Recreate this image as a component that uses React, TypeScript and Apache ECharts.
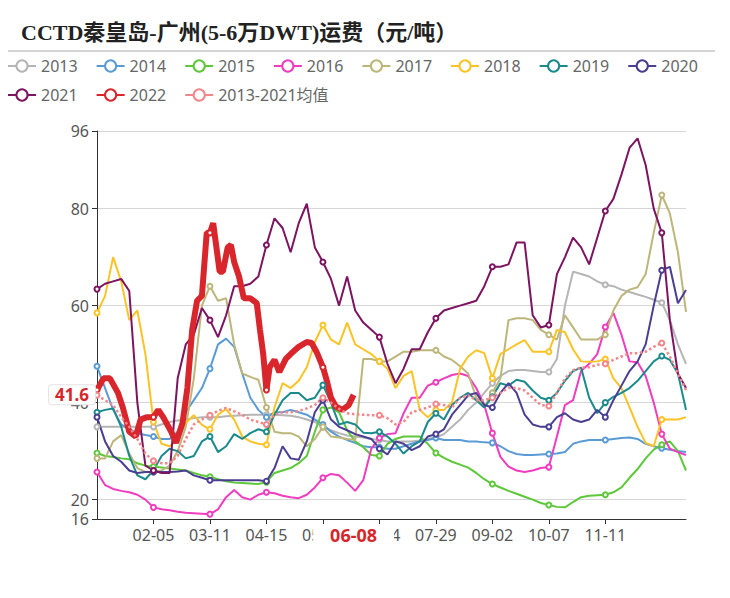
import React, { useEffect, useRef } from 'react';
import * as echarts from 'echarts';

// Category axis: every day of a (leap) year, MM-DD
const monthDays = [31, 29, 31, 30, 31, 30, 31, 31, 30, 31, 30, 31];
const days: string[] = [];
monthDays.forEach((n, m) => {
  for (let d = 1; d <= n; d++) days.push(`${String(m + 1).padStart(2, '0')}-${String(d).padStart(2, '0')}`);
});
// readings were taken every 5 days (01-01, 01-06, ... 12-31)
const sampleDays = days.filter((_, i) => i % 5 === 0);

const v2013 = [
  35, 35, 35, 35, 35, 35, 35, 35, 35.5, 36,
  36.3, 36.5, 36.8, 37, 37, 37, 37.2, 37.3, 37.4, 37.5,
  37.5, 37.5, 37.5, 37.4, 37.3, 37, 36.5, 36, 35, 34.3,
  33.7, 33.2, 33, 32.8, 32.5, 32.3, 32, 32, 32, 32,
  32.2, 32.5, 32.8, 33.5, 35, 36.5, 38.5, 40, 42, 44,
  45.5, 46.5, 46.7, 46.7, 46.5, 46.3, 46.3, 49, 60, 67,
  66.5, 66, 65, 64.3, 64, 63.3, 62.8, 62.3, 61.8, 61.2,
  60.6, 57, 52, 48,
];
const v2014 = [
  47.5, 43, 38.5, 35.5, 34.5, 33.7, 33.3, 33, 32.5, 32.5,
  34, 38, 40.5, 43, 47, 52, 53.2, 51.5, 46, 41,
  38.5, 37, 38, 38, 38.5, 38, 37.5, 36.5, 35.5, 34,
  33, 32.3, 31.7, 31, 30.8, 30.8, 30.5, 30.5, 31, 31.5,
  32, 32.3, 32.7, 32.3, 32.3, 32.3, 32, 32, 31.8, 31.7,
  31, 30, 29.4, 29.2, 29.2, 29.3, 29.4, 29.5, 29.8, 31.5,
  32, 32.3, 32.3, 32.3, 32.5, 32.7, 32.8, 32.5, 31.5, 31,
  30.6, 30.3, 30, 29.8,
];
const v2015 = [
  29.6, 29, 28.8, 28.5, 28.3, 27.5, 27, 26.8, 26.6, 26.4,
  26.2, 26, 25.5, 25, 24.7, 24.2, 23.8, 23.5, 23.4, 23.3,
  23.2, 23.6, 25.5, 26, 26.5, 27.5, 29, 34, 38.5, 39,
  38, 34.3, 32, 30.8, 29.2, 29, 31.5, 32.5, 33, 33,
  33, 31.5, 29.6, 28.6, 27.8, 27.2, 26.6, 25.5, 24.2, 23.2,
  22.5, 21.8, 21.2, 20.6, 20, 19.3, 18.9, 18.5, 18.4, 19.5,
  20.5, 20.8, 20.9, 21, 21.5, 22.5, 24.5, 26.3, 28.5, 30.3,
  31.3, 32, 30, 26,
];
const v2016 = [
  25.7, 23, 22.2, 21.8, 21.5, 21, 20, 18.4, 18, 17.8,
  17.5, 17.3, 17.2, 17.1, 17, 18, 20.5, 22, 20.5, 20,
  21, 21.5, 21.3, 20.8, 20.5, 20.3, 21, 22.5, 24.5, 25.3,
  25, 23.5, 21.8, 24, 30.5, 32.7, 33.5, 33.7, 37.8, 41,
  41, 43.5, 44.2, 45, 45.7, 46, 45.5, 43, 39.5, 33.7,
  28.8, 26.8, 26, 25.7, 26, 26.5, 26.7, 33, 39.5, 40.5,
  46.5, 48, 50, 55.6, 58.5, 54, 48.5, 48.3, 45.5, 40,
  33.5, 30.5, 29.8, 29.2,
];
const v2017 = [
  28.5, 28.5, 32, 33.3, 29.5, 26.5, 25.7, 25.7, 26, 27,
  30, 35, 45, 60, 64, 61, 61.5, 52, 46, 45.3,
  44.7, 39, 34, 33.7, 33.7, 33, 31, 32.5, 35, 33,
  32.8, 32.5, 32.3, 49, 49, 48.5, 48.5, 49.5, 50.5, 50.5,
  50.8, 50.8, 50.8, 49.5, 48.8, 47.5, 46, 41, 39, 42,
  45, 57, 57.4, 57.4, 57, 55, 54, 53, 58, 55.5,
  53, 53, 53, 54, 59, 62, 63.3, 63.8, 66.5, 75,
  82.8, 79, 71, 58.7,
];
const v2018 = [
  58.5, 62, 70, 65, 57, 59, 50, 36, 31.5, 31,
  32.5, 35.8, 37.4, 35.4, 34.5, 37.5, 38.7, 36.5, 33, 32,
  31.5, 31.3, 39, 44, 43, 44.5, 47.3, 52.5, 56, 53,
  52, 56.5, 52, 51, 50, 48.5, 47, 43, 45.5, 46.5,
  38.5, 37, 38.5, 38.5, 40, 47, 49.5, 50.8, 50.2, 45,
  50, 51, 52, 52.9, 50.5, 50.5, 50.5, 55, 54.5, 51,
  48.5, 48.4, 48.5, 49, 45, 43, 39, 35, 31.7, 31,
  36.5, 36.5, 36.5, 37,
];
const v2019 = [
  38, 38.5, 38.8, 35, 29, 25, 24.2, 26, 29, 30.5,
  30, 28.5, 29, 32, 33, 29.8, 31, 33.5, 32.5, 33.7,
  34.5, 34, 37.5, 40.5, 42, 42, 40.5, 41, 43.6, 40,
  35.5, 36, 35.5, 33.8, 33.7, 34, 33, 31.5, 29.5, 31,
  32, 36, 37.8, 36.5, 39.5, 41, 42, 40.5, 39, 41.2,
  44, 43.5, 44.7, 44.3, 42.5, 41, 40.5, 42, 44.5, 46.5,
  47.2, 41, 37.8, 40, 41.2, 42, 43, 44.5, 46.5, 48.5,
  49.6, 48.8, 46, 38.5,
];
const v2020 = [
  37, 32, 29, 27.8, 26, 25.5, 25.7, 25.7, 25.7, 25.7,
  25.8, 26, 25, 24.5, 24, 24, 24, 24, 24, 24,
  24, 23.8, 26.5, 31, 28.5, 28.2, 32, 38, 40.5, 36.5,
  35, 34.3, 33.5, 33, 32.5, 30.5, 29.3, 32, 31.5, 30.2,
  31, 33, 33.5, 34.5, 37.5, 39.5, 41.5, 42, 39.5, 39,
  42, 44, 42, 37.5, 35.5, 35, 35, 37, 37.8, 36.5,
  36, 36.5, 38.5, 37, 40.5, 43.5, 46.5, 48.5, 52, 60,
  67.3, 68, 60.5, 63.2,
];
const v2021 = [
  63.4, 64.5, 65, 65.5, 63, 40, 27, 26, 25.5, 25.5,
  45, 52, 54, 59.5, 57, 53.5, 58, 64, 64, 64.5,
  66, 72.5, 78, 76, 71, 77, 81, 72, 69, 65.5,
  60, 66, 59, 56.5, 55, 53.5, 48, 44, 47, 51,
  51, 54.5, 57.4, 59, 59.5, 60, 60.5, 61, 64, 68,
  68, 68.5, 73, 73, 58, 55.5, 56, 66.5, 70, 74,
  72, 68.5, 74, 79.5, 82, 87, 92.5, 94.5, 89, 80,
  75, 57, 46, 43,
];
const vAvg = [
  41.5, 40.5, 39.5, 37, 35, 32.5, 29.5, 28, 27.5, 27.5,
  29, 32.5, 35.5, 36.5, 37.4, 38.3, 38.9, 38.2, 37.5, 36.5,
  36, 35.5, 37.5, 38, 38, 38.3, 38.8, 39.5, 41, 40,
  38.7, 37.8, 37.6, 37.5, 37.4, 37.4, 36.8, 35.5, 36, 38,
  38.5, 39, 39.7, 39.5, 39, 41, 41.5, 40.5, 40.5, 41,
  42, 43, 43, 42.5, 41, 39.5, 39.3, 42, 45, 46.7,
  47.2, 47.3, 47.8, 48, 48.8, 49.5, 50.2, 50.2, 50.5, 51.5,
  52.3, 49.5, 46, 42.6,
];
const dates2022 = [
  '01-01', '01-05', '01-09', '01-14', '01-17', '01-21', '01-25', '01-28', '02-01', '02-05',
  '02-08', '02-11', '02-16', '02-19', '02-23', '02-26', '02-29', '03-03', '03-06', '03-09',
  '03-11', '03-13', '03-17', '03-19', '03-22', '03-24', '03-26', '03-29', '04-01', '04-05',
  '04-09', '04-11', '04-13', '04-15', '04-17', '04-20', '04-23', '04-27', '04-30', '05-05',
  '05-10', '05-13', '05-16', '05-20', '05-22', '05-25', '05-28', '06-01', '06-05', '06-08',
];
const v2022 = [
  42.6, 45, 45, 42, 39, 34, 33, 36.5, 37, 37,
  38.5, 37, 34, 31.7, 35.8, 43, 55, 61, 62, 75,
  75, 77, 67, 67, 72, 72.5, 69, 66, 61.5, 61.5,
  60.5, 55, 50, 42.6, 47.3, 48.8, 46.3, 49, 50, 51.5,
  52.5, 52.3, 50.5, 47.3, 45, 41, 39.2, 38.5, 39.5, 41.6,
];
const latestDate = '06-08';
const latestValue = 41.6;

const legendRow1 = ['2013', '2014', '2015', '2016', '2017', '2018', '2019', '2020'];
const legendRow2 = ['2021', '2022', '2013-2021均值'];

const seriesDefs = [
  { name: '2013', dates: sampleDays, values: v2013, color: '#b5b5b5', width: 2, dash: 'solid' },
  { name: '2014', dates: sampleDays, values: v2014, color: '#5b9bd5', width: 2, dash: 'solid' },
  { name: '2015', dates: sampleDays, values: v2015, color: '#5dc83a', width: 2, dash: 'solid' },
  { name: '2016', dates: sampleDays, values: v2016, color: '#f03cbf', width: 2, dash: 'solid' },
  { name: '2017', dates: sampleDays, values: v2017, color: '#bdb67a', width: 2, dash: 'solid' },
  { name: '2018', dates: sampleDays, values: v2018, color: '#fbc325', width: 2, dash: 'solid' },
  { name: '2019', dates: sampleDays, values: v2019, color: '#1b8a8c', width: 2, dash: 'solid' },
  { name: '2020', dates: sampleDays, values: v2020, color: '#4a3e92', width: 2, dash: 'solid' },
  { name: '2021', dates: sampleDays, values: v2021, color: '#7d1461', width: 2, dash: 'solid' },
  { name: '2022', dates: dates2022, values: v2022, color: '#d9262c', width: 6, dash: 'solid' },
  { name: '2013-2021均值', dates: sampleDays, values: vAvg, color: '#f2868a', width: 2.5, dash: 'dotted' },
];

const sans = "'Noto Sans', 'Noto Sans CJK SC', sans-serif";

export default function App() {
  const ref = useRef<HTMLDivElement>(null);
  useEffect(() => {
    document.body.style.margin = '0';
    if (!ref.current) return;
    const chart = echarts.init(ref.current, undefined, { renderer: 'svg' });
    const legendCommon = {
      left: 7,
      padding: 0,
      itemWidth: 28,
      itemHeight: 14,
      itemGap: 18,
      textStyle: { fontSize: 16, color: '#666', fontFamily: sans },
      lineStyle: { width: 2, type: 'solid' },
    };
    const option: any = {
      animation: false,
      backgroundColor: '#fff',
      title: {
        text: 'CCTD秦皇岛-广州(5-6万DWT)运费（元/吨）',
        left: 21,
        top: 21,
        padding: 0,
        textStyle: {
          fontFamily: "'Liberation Serif', 'Noto Sans CJK SC', serif",
          fontWeight: 'bold',
          fontSize: 22,
          color: '#222',
        },
      },
      graphic: [
        { type: 'line', shape: { x1: 8, y1: 51, x2: 715, y2: 51 }, style: { stroke: '#aaa', lineWidth: 1 } },
      ],
      legend: [
        { ...legendCommon, top: 58, data: legendRow1 },
        { ...legendCommon, top: 87, data: legendRow2 },
      ],
      grid: { left: 97, right: 44, top: 131, bottom: 79 },
      xAxis: {
        type: 'category',
        data: days,
        boundaryGap: false,
        axisLine: { lineStyle: { color: '#333' } },
        axisTick: { interval: 34, length: 5, lineStyle: { color: '#333' } },
        axisLabel: {
          interval: 34,
          showMinLabel: false,
          showMaxLabel: false,
          fontSize: 16,
          color: '#555',
          fontFamily: sans,
          margin: 8,
        },
        splitLine: { show: false },
        axisPointer: {
          show: true,
          status: 'show',
          value: latestDate,
          triggerTooltip: false,
          type: 'line',
          lineStyle: { opacity: 0 },
          label: {
            show: true,
            color: '#d7262b',
            fontWeight: 'bold',
            fontSize: 18,
            fontFamily: sans,
            backgroundColor: '#fff',
            padding: [2, 17],
            margin: 5,
          },
        },
      },
      yAxis: {
        type: 'value',
        min: 16,
        max: 96,
        axisLine: { show: true, lineStyle: { color: '#333' } },
        axisTick: { show: true, length: 5, lineStyle: { color: '#333' } },
        axisLabel: { fontSize: 16, color: '#555', fontFamily: sans, margin: 8 },
        splitLine: { lineStyle: { color: '#d6d6d6' } },
        axisPointer: {
          show: true,
          status: 'show',
          value: latestValue,
          triggerTooltip: false,
          type: 'line',
          lineStyle: { opacity: 0 },
          label: {
            show: true,
            precision: 1,
            color: '#d7262b',
            fontWeight: 'bold',
            fontSize: 17,
            fontFamily: sans,
            backgroundColor: '#fff',
            borderColor: '#e3e3e3',
            borderWidth: 1,
            padding: [1, 6],
            margin: 2,
          },
        },
      },
      series: seriesDefs.map((s) => ({
        name: s.name,
        type: 'line',
        data: s.dates.map((d, i) => [d, s.values[i]]),
        symbol: 'emptyCircle',
        symbolSize: 5,
        lineStyle: { width: s.width, color: s.color, type: s.dash },
        itemStyle: { color: s.color },
        emphasis: { disabled: true },
      })),
    };
    chart.setOption(option);
    return () => chart.dispose();
  }, []);
  return <div ref={ref} style={{ width: 730, height: 598 }} />;
}
